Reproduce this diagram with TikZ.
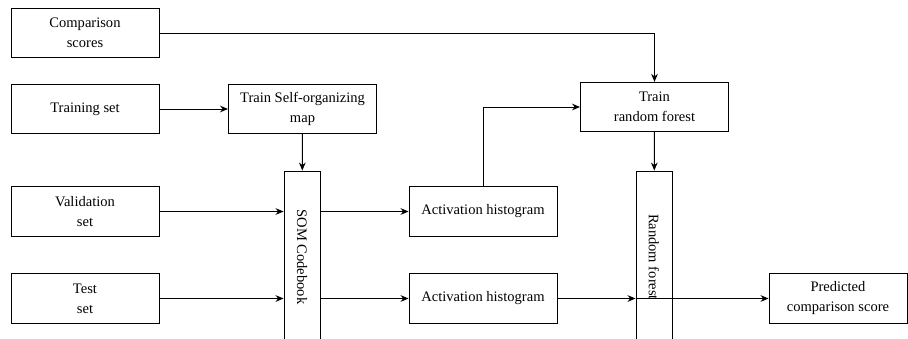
\documentclass[tikz,border=0pt]{standalone}
\usepackage{fontspec}
\setmainfont{Liberation Serif}
\usetikzlibrary{arrows.meta, calc}

\begin{document}
\begin{tikzpicture}[x=0.75pt, y=-0.75pt, line width=0.7pt,
	every node/.style={font=\fontsize{10.9}{15}\selectfont, align=center, inner sep=0pt},
	box/.style={draw, minimum width=111pt, minimum height=37pt},
	tallbox/.style={draw, minimum width=27pt, minimum height=129pt},
	arr/.style={-{Stealth[length=6pt, width=5pt]}}]
	\useasboundingbox (0,0) rectangle (908,339);
	
	% inputs
	\node[box] (cmp) at (85,33) {Comparison\\scores};
	\node[box] (train) at (85,109) {Training set};
	\node[box] (val) at (85,211.5) {Validation\\set};
	\node[box] (test) at (85,298.5) {Test\\set};
	
	% self-organizing map
	\node[box] (trainsom) at (302.5,109) {Train Self-organizing\\map};
	\node[tallbox] (som) at (302,257) {};
	\node[rotate=-90] at (som) {SOM Codebook};
	
	\node[box] (hist1) at (483,211.5) {Activation histogram};
	\node[box] (hist2) at (483,298.5) {Activation histogram};
	
	% random forest
	\node[box] (trainrf) at (654.5,107) {Train\\random forest};
	\node[tallbox] (rf) at (654,257) {};
	\node[rotate=-90] at (rf) {Random forest};
	
	\node[box, minimum width=103.5pt] (pred) at (838,298.5) {Predicted\\comparison score};
	
	\draw[arr] (cmp) -| (trainrf);
	\draw[arr] (train) -- (trainsom);
	\draw[arr] (trainsom) -- (som);
	\draw[arr] (val) -- (val -| som.west);
	\draw[arr] (test) -- (test -| som.west);
	\draw[arr] (som.east |- hist1) -- (hist1);
	\draw[arr] (som.east |- hist2) -- (hist2);
	\draw[arr] (hist1) |- (trainrf);
	\draw[arr] (trainrf) -- (rf);
	\draw[arr] (hist2) -- (hist2 -| rf.west);
	\draw[arr] (rf.west |- pred) -- (pred);
\end{tikzpicture}
\end{document}
